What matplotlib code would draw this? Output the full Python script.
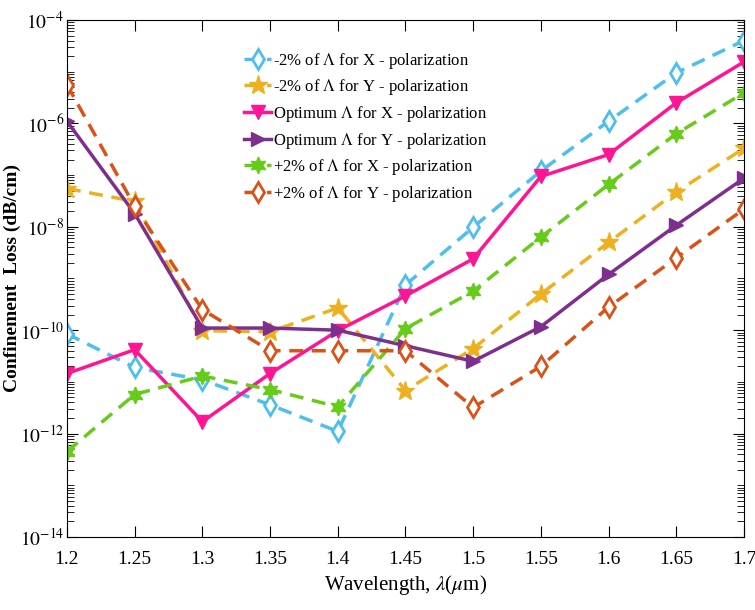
import matplotlib.pyplot as plt
import numpy as np
from matplotlib.ticker import LogLocator, NullFormatter

plt.rcParams['font.family'] = 'Liberation Serif'
plt.rcParams['mathtext.fontset'] = 'stix'

wl = [1.2, 1.25, 1.3, 1.35, 1.4, 1.45, 1.5, 1.55, 1.6, 1.65, 1.7]

m2_x = [8.5e-11, 1.9e-11, 1.1e-11, 3.6e-12, 1.1e-12, 7.5e-10, 9.8e-9, 1.2e-7, 1.1e-6, 9.5e-6, 4.0e-5]
m2_y = [5.5e-8, 3.1e-8, 9.8e-11, 9.3e-11, 2.7e-10, 6.8e-12, 4.4e-11, 5.0e-10, 5.0e-9, 4.7e-8, 3.3e-7]
opt_x = [1.45e-11, 4.2e-11, 1.7e-12, 1.45e-11, 9.8e-11, 4.6e-10, 2.4e-9, 9.4e-8, 2.5e-7, 2.5e-6, 1.55e-5]
opt_y = [1.1e-6, 1.8e-8, 1.1e-10, 1.1e-10, 1.0e-10, 5.0e-11, 2.5e-11, 1.17e-10, 1.2e-9, 1.07e-8, 8.7e-8]
p2_x = [4.5e-13, 5.7e-12, 1.3e-11, 7.1e-12, 3.3e-12, 1.07e-10, 5.7e-10, 6.3e-9, 6.6e-8, 6.3e-7, 3.9e-6]
p2_y = [5.6e-6, 2.5e-8, 2.5e-10, 4.0e-11, 4.0e-11, 4.0e-11, 3.2e-12, 2.0e-11, 2.8e-10, 2.5e-9, 2.2e-8]

fig = plt.figure(figsize=(7.55, 6.1), dpi=100)
ax = fig.add_axes([0.0887, 0.1197, 0.8967, 0.8475])

ds = (0, (4, 2.5))
ax.plot(wl, m2_x, color='#4DBEEE', ls=ds, lw=2.5, marker='d', ms=10, mfc='white', mew=2,
        label=r'-2% of $\Lambda$ for X - polarization')
ax.plot(wl, m2_y, color='#EDB120', ls=ds, lw=2.5, marker='*', ms=14,
        label=r'-2% of $\Lambda$ for Y - polarization')
ax.plot(wl, opt_x, color='#FF1493', ls='-', lw=2.5, marker='v', ms=10,
        label=r'Optimum $\Lambda$ for X - polarization')
ax.plot(wl, opt_y, color='#7E2F8E', ls='-', lw=2.5, marker='>', ms=10,
        label=r'Optimum $\Lambda$ for Y - polarization')
ax.plot(wl, p2_x, color='#66CC1A', ls=ds, lw=2.5, marker=(6, 1, 0), ms=12,
        label=r'+2% of $\Lambda$ for X - polarization')
ax.plot(wl, p2_y, color='#D95319', ls=ds, lw=2.5, marker='d', ms=10, mfc='white', mew=2,
        label=r'+2% of $\Lambda$ for Y - polarization')

ax.set_yscale('log')
ax.set_xlim(1.2, 1.7)
ax.set_ylim(1e-14, 1e-4)
ax.set_xticks(wl)
ax.set_xticklabels(['1.2', '1.25', '1.3', '1.35', '1.4', '1.45', '1.5', '1.55', '1.6', '1.65', '1.7'])
yt = [1e-14, 1e-12, 1e-10, 1e-8, 1e-6, 1e-4]
ax.set_yticks(yt)
ax.set_yticklabels([r'$10^{%d}$' % int(np.log10(v)) for v in yt])
ax.yaxis.set_minor_locator(LogLocator(base=10, subs=np.arange(1, 10), numticks=30))
ax.yaxis.set_minor_formatter(NullFormatter())
ax.tick_params(which='both', direction='in', top=True, right=True)
ax.tick_params(axis='x', labelsize=14, pad=10)
ax.tick_params(axis='y', labelsize=14, pad=2)
ax.tick_params(which='major', length=8)
ax.tick_params(which='minor', length=5)

ax.set_xlabel(r'Wavelength, $\lambda$($\mu$m)', fontsize=15)
ax.set_ylabel('Confinement  Loss (dB/cm)', fontsize=14, fontweight='bold')
ax.yaxis.set_label_coords(-0.068, 0.5)

ax.legend(loc='upper left', bbox_to_anchor=(0.24, 0.97), frameon=False, fontsize=12,
          handlelength=1.6, handletextpad=0.1, labelspacing=0.4)

fig.savefig('out.png', dpi=100)
